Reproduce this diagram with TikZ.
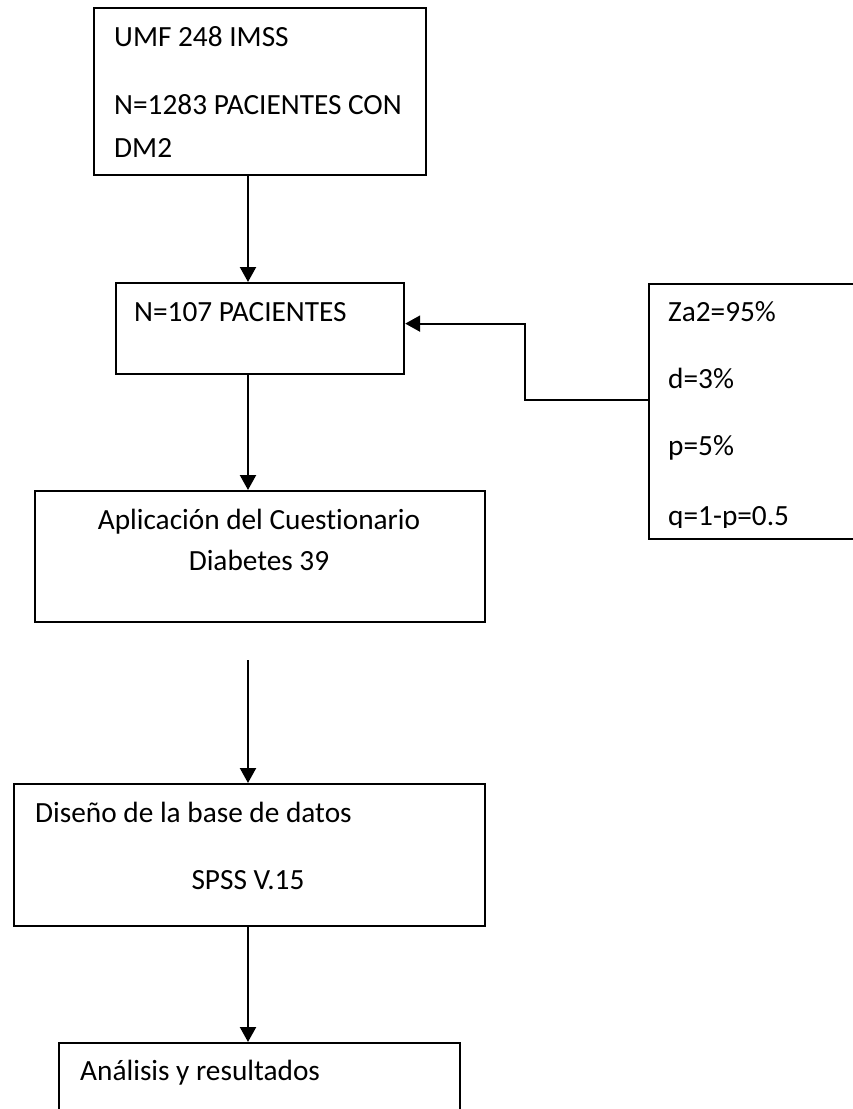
\documentclass[tikz,border=0pt]{standalone}
\usepackage{fontspec}
\setmainfont[Ligatures=NoCommon]{Carlito}
\usetikzlibrary{arrows.meta,positioning}
\tikzset{
  box/.style={draw, line width=2.2pt, rectangle, inner sep=0pt, anchor=north west},
  txt/.style={font=\fontsize{29.3}{35}\selectfont, inner sep=0pt},
  link/.style={-{Triangle[length=15pt, width=16pt]}, line width=2.2pt},
}

\begin{document}
\begin{tikzpicture}[x=1pt, y=-1pt]
  \useasboundingbox (0,0) rectangle (853,1109);

  % Boxes
  \node[box, minimum width=332, minimum height=167] (umf) at (93,7) {};
  \node[box, minimum width=288, minimum height=91] (muestra) at (115,282) {};
  \node[box, minimum width=260, minimum height=255] (formula) at (648,283) {};
  \node[box, minimum width=450, minimum height=131] (cuest) at (34,490) {};
  \node[box, minimum width=471, minimum height=142] (base) at (13,783) {};
  \node[box, minimum width=401, minimum height=120] (analisis) at (58,1042) {};

  % Arrows
  \coordinate (eje) at (248,0);
  \coordinate (suelto) at (248,660);
  \draw[link] (umf.south -| eje) -- (muestra.north -| eje);
  \draw[link] ([yshift=12pt]formula.west) -- ++(-123,0) |- ([yshift=5pt]muestra.east);
  \draw[link] (muestra.south -| eje) -- (cuest.north -| eje);
  \draw[link] (suelto) -- (base.north -| eje);
  \draw[link] (base.south -| eje) -- (analisis.north -| eje);

  % Labels
  \node[txt, anchor=base west] (umf1) at (114,46) {UMF 248 IMSS};
  \node[txt, anchor=base west] (umf2) at (114,114) {N=1283 PACIENTES CON};
  \node[txt, anchor=base west] (umf3) at (114,157) {DM2};
  \node[txt, anchor=base west] (muestra1) at (134,321) {N=107 PACIENTES};
  \begin{scope}
    \clip (formula.north west) rectangle ([yshift=13pt]formula.south east);
    \node[txt, anchor=base west] (za) at (668,321) {Za2=95\%};
    \node[txt, anchor=base west] (d) at (668,388) {d=3\%};
    \node[txt, anchor=base west] (p) at (668,455) {p=5\%};
    \node[txt, anchor=base west] (q) at (668,525) {q=1-p=0.5};
  \end{scope}
  \node[txt, anchor=base] (cuest1) at (259,529) {Aplicación del Cuestionario};
  \node[txt, anchor=base] (cuest2) at (259,570) {Diabetes 39};
  \node[txt, anchor=base west] (base1) at (35,822) {Diseño de la base de datos};
  \node[txt, anchor=base] (base2) at (248,889) {SPSS V.15};
  \node[txt, anchor=base west] (analisis1) at (80,1080) {Análisis y resultados};
\end{tikzpicture}
\end{document}
